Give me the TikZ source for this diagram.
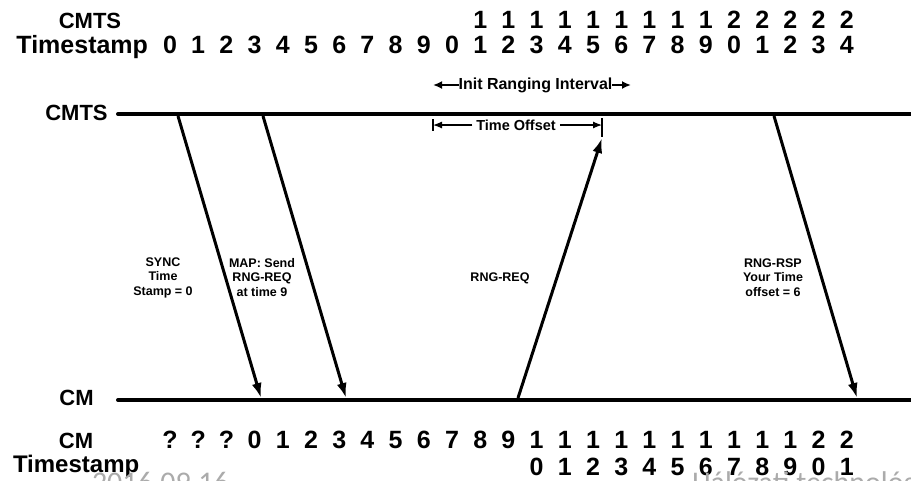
\documentclass[tikz,border=0pt]{standalone}
\usepackage{fontspec}
\setmainfont{Liberation Sans}
\newfontfamily\footfont{Carlito}
\usetikzlibrary{arrows.meta}
\begin{document}
\begin{tikzpicture}[x=1pt,y=-1pt,
  every node/.style={inner sep=0pt,outer sep=0pt},
  hdr/.style={font=\fontsize{25}{25}\selectfont\bfseries},
  lname/.style={font=\fontsize{22}{22}\selectfont\bfseries},
  dig/.style={font=\fontsize{25}{25}\selectfont\bfseries,anchor=base},
  msg/.style={font=\fontsize{12.5}{14.5}\selectfont\bfseries,align=center},
  tl/.style={line width=4pt,line cap=round},
  sig/.style={line width=3pt,-{Latex[length=15pt,width=10pt]}},
  ivl/.style={line width=1.8pt,-{Latex[length=9pt,width=8pt]}},
  ofs/.style={line width=1.2pt,-{Latex[length=9pt,width=7pt]}},
  bar/.style={line width=1.6pt},
  foot/.style={font=\footfont\fontsize{30}{30}\selectfont,text=black!33,anchor=base west}
]
\useasboundingbox (0,0) rectangle (911,480);
\clip (0,0) rectangle (911,480);
\fill[white] (0,0) rectangle (911,480);

% top header
\node[lname,anchor=base] (topcmts) at (90,28) {CMTS};
\node[hdr,anchor=base east] (topts) at (148,53) {Timestamp};
\foreach \p in {11,...,24}{
  \pgfmathtruncatemacro\d{\p/10}
  \node[dig] (th\p) at ({170+28.2*\p},28) {\d};
}
\foreach \p in {0,...,24}{
  \pgfmathtruncatemacro\d{mod(\p,10)}
  \node[dig] (tu\p) at ({170+28.2*\p},53) {\d};
}

% bottom header
\node[lname,anchor=base] (botcm) at (76,448) {CM};
\node[hdr,anchor=base west,font=\fontsize{24}{24}\selectfont\bfseries] (botts) at (13,472) {Timestamp};
\foreach \p in {0,1,2}{
  \node[dig] (bq\p) at ({170+28.2*\p},448) {?};
}
\foreach \p in {3,...,12}{
  \pgfmathtruncatemacro\d{\p-3}
  \node[dig] (bh\p) at ({170+28.2*\p},448) {\d};
}
\foreach \p in {13,...,24}{
  \pgfmathtruncatemacro\d{(\p-3)/10}
  \node[dig] (bh\p) at ({170+28.2*\p},448) {\d};
  \pgfmathtruncatemacro\e{mod(\p-3,10)}
  \node[dig] (bu\p) at ({170+28.2*\p},475) {\e};
}

% time lines
\node[lname,anchor=base] (cmts) at (76.5,120) {CMTS};
\node[lname,anchor=base] (cm) at (76.5,405) {CM};
\coordinate (cmtsL) at (118,114);
\coordinate (cmtsR) at (916,114);
\coordinate (cmL) at (118,400);
\coordinate (cmR) at (916,400);
\draw[tl] (cmtsL) -- (cmtsR);
\draw[tl] (cmL) -- (cmR);

% signals
\coordinate (syncA) at (178,116);
\coordinate (syncB) at (261,398);
\coordinate (mapA) at (263,116);
\coordinate (mapB) at (346,398);
\coordinate (reqA) at (518,398);
\coordinate (reqB) at (602,138);
\coordinate (rspA) at (774,116);
\coordinate (rspB) at (857,398);
\draw[sig] (syncA) -- (syncB);
\draw[sig] (mapA) -- (mapB);
\draw[sig] (reqA) -- (reqB);
\draw[sig] (rspA) -- (rspB);

\node[msg] (synclbl) at (163,277.5) {SYNC\\Time\\Stamp = 0};
\node[msg] (maplbl) at (262,277.5) {MAP: Send\\RNG-REQ\\at time 9};
\node[msg] (reqlbl) at (500,278) {RNG-REQ};
\node[msg] (rsplbl) at (773,277.5) {RNG-RSP\\Your Time\\offset = 6};

% init ranging interval
\node[font=\fontsize{16}{16}\selectfont\bfseries] (iri) at (535.5,85) {Init Ranging Interval};
\coordinate (iriL) at (433,85);
\coordinate (iriR) at (631,85);
\draw[ivl] (iri.west) -- (iriL);
\draw[ivl] (iri.east) -- (iriR);

% time offset
\node[font=\fontsize{14.5}{14.5}\selectfont\bfseries] (tof) at (516,125) {Time Offset};
\coordinate (tofL) at (433,125);
\coordinate (tofR) at (602,125);
\coordinate (barL1) at (433,119);
\coordinate (barL2) at (433,131);
\coordinate (barR1) at (602,118);
\coordinate (barR2) at (602,137);
\draw[ofs] ([xshift=-4pt]tof.west) -- (tofL);
\draw[ofs] ([xshift=4pt]tof.east) -- (tofR);
\draw[bar] (barL1) -- (barL2);
\draw[bar] (barR1) -- (barR2);

% footer
\node[foot] (date) at (92,492) {2016.09.16};
\node[foot] (title) at (692,492) {Hálózati technológiák};
\end{tikzpicture}
\end{document}
